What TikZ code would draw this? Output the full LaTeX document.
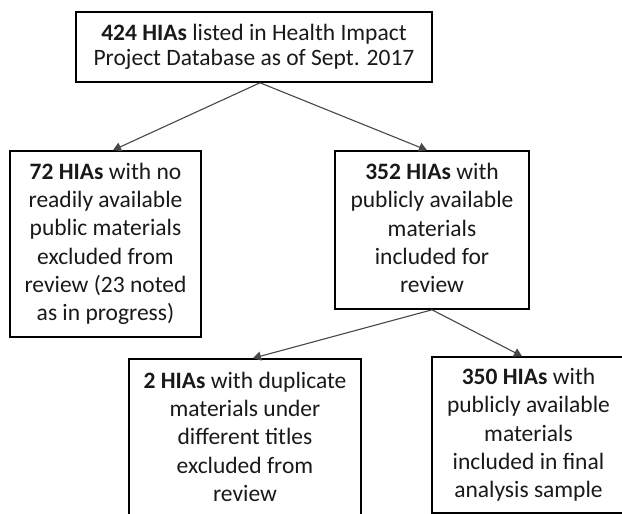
\documentclass[tikz,border=0pt]{standalone}
\usepackage{fontspec}
\setmainfont{Carlito}
\usetikzlibrary{arrows.meta}
\begin{document}
\begin{tikzpicture}[x=1pt,y=-1pt,
  box/.style={draw=black,line width=1.6pt,align=center,inner sep=0pt,
    font=\fontsize{23.5}{28.3}\selectfont,text=black!90},
  conn/.style={draw=black!72,line width=1.1pt,-{Triangle[length=8pt,width=9pt]}}]
\useasboundingbox (0,0) rectangle (622,514);
\clip (0,0) rectangle (622,514);
\node[box,font=\fontsize{23.5}{25}\selectfont,minimum width=356pt,minimum height=70pt] (top) at (254,47)
  {\textbf{424 HIAs} listed in Health Impact\\Project Database as of Sept. 2017};
\node[box,minimum width=191pt,minimum height=186pt] (left) at (105.5,244)
  {\textbf{72 HIAs} with no\\readily available\\public materials\\excluded from\\review (23 noted\\as in progress)};
\node[box,minimum width=194pt,minimum height=158pt] (right) at (432,230)
  {\textbf{352 HIAs} with\\publicly available\\materials\\included for\\review\vphantom{p}};
\node[box,minimum width=232pt,minimum height=159pt] (bl) at (245,438.5)
  {\textbf{2 HIAs} with duplicate\\materials under\\different titles\\excluded from\\review\vphantom{p}};
\node[box,minimum width=193pt,minimum height=156pt] (br) at (528.5,435)
  {\textbf{350 HIAs} with\\publicly available\\materials\\included in final\\analysis sample};
\draw[conn] ([xshift=6pt]top.south) -- ([xshift=7.5pt]left.north);
\draw[conn] ([xshift=6pt]top.south) -- ([xshift=-5pt]right.north);
\draw[conn] (right.south) -- ([xshift=8pt]bl.north);
\draw[conn] (right.south) -- ([xshift=-6.5pt]br.north);
\end{tikzpicture}
\end{document}
